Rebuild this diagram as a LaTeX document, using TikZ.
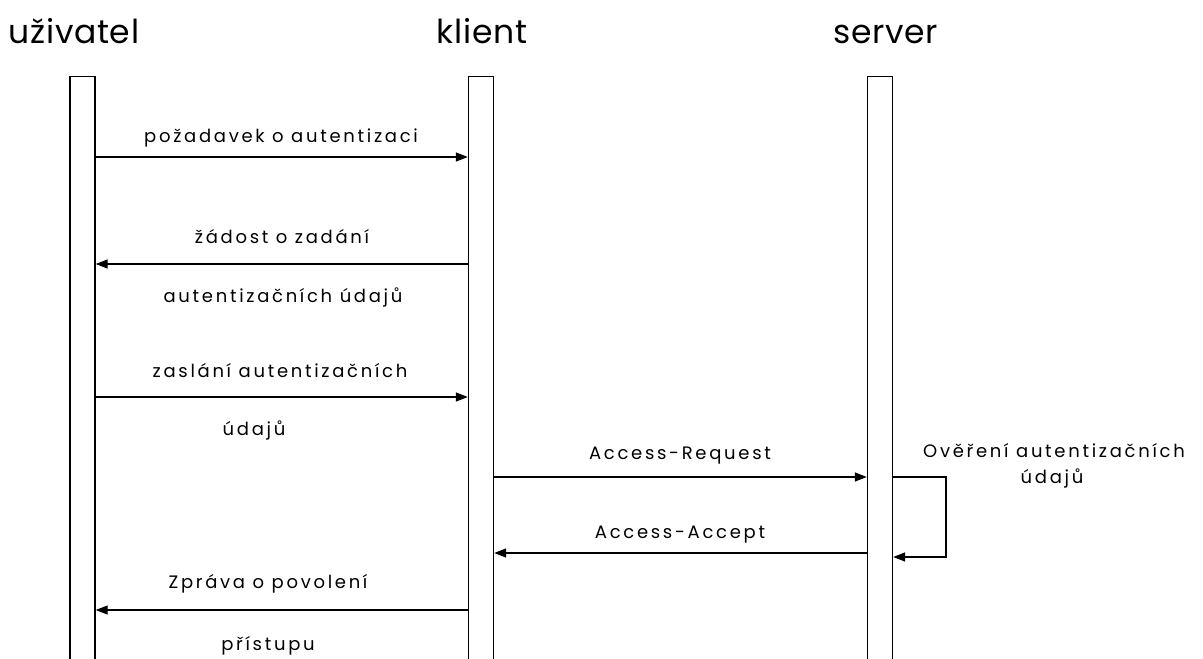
\documentclass[tikz,border=0pt]{standalone}
\usepackage{fontspec}
\setmainfont{Poppins}
\newfontfamily\lblfont[LetterSpace=15]{Poppins}
\newfontfamily\ttlfont[LetterSpace=2]{Poppins}
\usetikzlibrary{arrows.meta}
\begin{document}
\begin{tikzpicture}[x=1pt,y=-1pt,
  lifeline/.style={draw,line width=1.4pt,minimum width=25pt,minimum height=600pt,inner sep=0pt,anchor=north},
  title/.style={font=\ttlfont\fontsize{33}{36}\selectfont,inner sep=0pt,anchor=base},
  lbl/.style={font=\lblfont\fontsize{18}{21}\selectfont,inner sep=0pt,anchor=base},
  msg/.style={line width=1.4pt,-{Triangle[length=12pt,width=9pt]}}]
\useasboundingbox[fill=white] (0,0) rectangle (1203,659);
\node[lifeline] (u) at (82.5,76) {};
\node[lifeline] (k) at (481,76) {};
\node[lifeline] (s) at (880,76) {};
\node[title] (tu) at (74,43) {uživatel};
\node[title] (tk) at (482,43) {klient};
\node[title] (ts) at (886,43) {server};
% 1
\draw[msg] (u.east |- 0,157) -- (k.west |- 0,157);
\node[lbl] (l1) at (281,142) {požadavek o autentizaci};
% 2
\draw[msg] (k.west |- 0,264) -- (u.east |- 0,264);
\node[lbl] (l2a) at (282,243) {žádost o zadání};
\node[lbl] (l2b) at (283,302) {autentizačních údajů};
% 3
\draw[msg] (u.east |- 0,397) -- (k.west |- 0,397);
\node[lbl] (l3a) at (280,377) {zaslání autentizačních};
\node[lbl] (l3b) at (254,435) {údajů};
% 4
\draw[msg] (k.east |- 0,477) -- (s.west |- 0,477);
\node[lbl] (l4) at (680,459) {Access-Request};
% 5
\draw[msg] (s.west |- 0,553) -- (k.east |- 0,553);
\node[lbl] (l5) at (680,538) {Access-Accept};
% self loop
\coordinate (c1) at (946,477);
\coordinate (c2) at (946,557);
\draw[msg] (s.east |- c1) -- (c1) -- (c2) -- (s.east |- c2);
\node[lbl] (l6a) at (1054,457) {Ověření autentizačních};
\node[lbl] (l6b) at (1052,483) {údajů};
% 7
\draw[msg] (k.west |- 0,610) -- (u.east |- 0,610);
\node[lbl] (l7a) at (268,588) {Zpráva o povolení};
\node[lbl] (l7b) at (268,650) {přístupu};
\end{tikzpicture}
\end{document}
